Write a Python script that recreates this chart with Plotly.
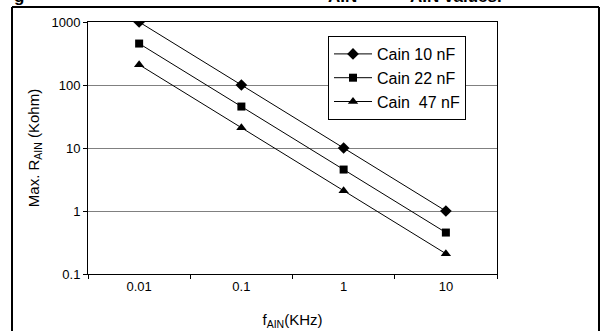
import plotly.graph_objects as go

# ---------------------------------------------------------------------------
# Data
# ---------------------------------------------------------------------------
freq_khz = ["0.01", "0.1", "1", "10"]
r_cain_10nf = [1000, 100, 10, 1]
r_cain_22nf = [455, 45.5, 4.55, 0.455]
r_cain_47nf = [210, 21, 2.1, 0.21]

series_names = ["Cain 10 nF", "Cain 22 nF", "Cain  47 nF"]
y_ticks = [0.1, 1, 10, 100, 1000]
y_tick_text = ["0.1", "1", "10", "100", "1000"]

FONT = "Arial, Liberation Sans, sans-serif"

# plot area in pixels: x 88..497, y 22..274 on a 605x331 page
W, H = 605, 331
L, R, T, B = 88, 108, 22, 57
PW, PH = W - L - R, H - T - B


def px_x(px):
    return (px - L) / PW


def px_y(py):
    return (H - B - py) / PH


fig = go.Figure()

symbols = ["diamond", "square", "triangle-up"]
sizes = [9, 8, 9]
for name, vals, sym, sz in zip(series_names,
                               [r_cain_10nf, r_cain_22nf, r_cain_47nf],
                               symbols, sizes):
    fig.add_trace(go.Scatter(
        x=freq_khz, y=vals, name=name, mode="lines+markers",
        line=dict(color="black", width=1),
        marker=dict(symbol=sym, size=sz, color="black"),
    ))

fig.update_xaxes(
    type="category", range=[-0.5, 3.5], automargin=False,
    tickson="boundaries", ticks="outside", ticklen=4, tickcolor="black",
    showline=True, linecolor="black", linewidth=1, mirror=True,
    showgrid=False, zeroline=False,
    tickfont=dict(family=FONT, size=13, color="black"),
    title=dict(text="f<sub>AIN</sub>(KHz)", standoff=21,
               font=dict(family=FONT, size=15, color="black")),
)
fig.update_yaxes(
    type="log", range=[-1, 3], automargin=False,
    tickvals=y_ticks, ticktext=y_tick_text,
    ticks="outside", ticklen=4, tickcolor="black",
    showline=True, linecolor="black", linewidth=1, mirror=True,
    showgrid=True, gridcolor="#808080", gridwidth=1, zeroline=False,
    tickfont=dict(family=FONT, size=13, color="black"),
    title=dict(text="Max. R<sub>AIN</sub> (Kohm)", standoff=8,
               font=dict(family=FONT, size=15, color="black")),
)

# thick outer frame of the figure (top, left and right edges; the bottom
# edge is below the picture)
frame_x = [px_x(12), px_x(12), px_x(599), px_x(599)]
frame_y = [px_y(340), px_y(7), px_y(7), px_y(340)]
for x0, y0, x1, y1 in zip(frame_x[:-1], frame_y[:-1], frame_x[1:], frame_y[1:]):
    fig.add_shape(type="line", xref="paper", yref="paper",
                  x0=x0, y0=y0, x1=x1, y1=y1,
                  line=dict(color="black", width=2))

# caption cut off at the top of the picture
for txt, cx in [("g", 19), ("AIN", 342), ("AIN values.", 456)]:
    fig.add_annotation(text=txt, xref="paper", yref="paper",
                       x=px_x(cx), y=px_y(8), xanchor="center", yanchor="bottom",
                       showarrow=False,
                       font=dict(family=FONT, size=17, color="black", weight="bold"))

fig.update_layout(
    width=W, height=H,
    margin=dict(l=L, r=R, t=T, b=B, autoexpand=False),
    paper_bgcolor="white", plot_bgcolor="white",
    font=dict(family=FONT, color="black"),
    legend=dict(
        x=px_x(328), y=px_y(36), xanchor="left", yanchor="top",
        bgcolor="white", bordercolor="black", borderwidth=1,
        itemwidth=38,
        font=dict(family=FONT, size=16, color="black"),
    ),
)

fig.write_html("out.html", config={"displayModeBar": False},
               post_script="document.body.style.margin = '0';")
